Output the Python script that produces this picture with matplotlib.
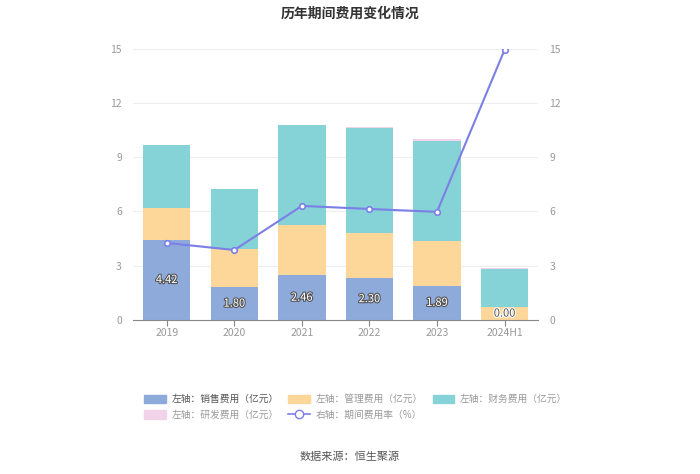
import numpy as np
import matplotlib.pyplot as plt
import matplotlib.patheffects as pe
from matplotlib.patches import Patch
from matplotlib.lines import Line2D

plt.rcParams['font.family'] = ['Noto Sans CJK SC', 'DejaVu Sans']

# 数据
years = ['2019', '2020', '2021', '2022', '2023', '2024H1']
sales = [4.42, 1.80, 2.46, 2.30, 1.89, 0.00]
admin = [1.78, 2.13, 2.80, 2.51, 2.48, 0.72]
finance = [3.48, 3.32, 5.53, 5.80, 5.53, 2.10]
research = [0.00, 0.00, 0.02, 0.08, 0.10, 0.05]
rate = [4.26, 3.87, 6.31, 6.14, 5.98, 14.94]

c_sales = '#8eaadb'
c_admin = '#fdd69a'
c_fin = '#86d3d7'
c_rd = '#f1d4e9'
c_line = '#7b7fe6'
grey = '#999999'

fig = plt.figure(figsize=(7, 4.74), dpi=100)
ax = fig.add_axes([0.19, 0.325, 0.579, 0.572])
ax2 = ax.twinx()

x = np.arange(len(years))
w = 0.7
sales = np.array(sales)
admin = np.array(admin)
finance = np.array(finance)
research = np.array(research)

ax.bar(x, sales, w, color=c_sales, zorder=2)
ax.bar(x, admin, w, bottom=sales, color=c_admin, zorder=2)
ax.bar(x, finance, w, bottom=sales + admin, color=c_fin, zorder=2)
ax.bar(x, research, w, bottom=sales + admin + finance, color=c_rd, zorder=2)

# 销售费用数值标签
for i, v in enumerate(sales):
    y = v / 2 if v > 0.3 else 0.35
    ax.text(i, y, f'{v:.2f}', ha='center', va='center', fontsize=8,
            color='white' if v > 0 else '#555555', zorder=5,
            path_effects=[pe.withStroke(linewidth=1.6,
                                        foreground='#555555' if v > 0 else 'white')])

ax2.plot(x, rate, color=c_line, lw=1.5, marker='o', ms=4,
         markerfacecolor='white', markeredgecolor=c_line, markeredgewidth=1.2, zorder=4)

for a in (ax, ax2):
    a.set_ylim(0, 15)
    a.set_yticks([0, 3, 6, 9, 12, 15])
    a.set_xlim(-0.5, len(years) - 0.5)
    for s in a.spines.values():
        s.set_visible(False)
    a.tick_params(axis='y', length=0, labelsize=7.5, labelcolor=grey, pad=8)

ax.spines['bottom'].set_visible(True)
ax.spines['bottom'].set_color('#888888')
ax.set_xticks(x)
ax.set_xticklabels(years)
ax.tick_params(axis='x', length=4, color='#888888', labelsize=7.5, labelcolor=grey, pad=2)
ax.yaxis.grid(True, color='#eeeeee', lw=0.8, zorder=0)
ax.set_axisbelow(True)

fig.text(0.5, 0.972, '历年期间费用变化情况', ha='center', va='center',
         fontsize=10, fontweight='bold', color='#333333')

handles = [
    Patch(color=c_sales), Patch(color=c_rd), Patch(color=c_admin),
    Line2D([], [], color=c_line, marker='o', markerfacecolor='white',
           markeredgecolor=c_line, ms=6, lw=1.2),
    Patch(color=c_fin),
]
labels = ['左轴：销售费用（亿元）', '左轴：研发费用（亿元）', '左轴：管理费用（亿元）',
          '右轴：期间费用率（%）', '左轴：财务费用（亿元）']
leg = fig.legend(handles, labels, ncol=3, loc='center', bbox_to_anchor=(0.508, 0.141),
                 frameon=False, fontsize=7, handlelength=2.2, handleheight=1.0,
                 columnspacing=1.0, labelspacing=0.6, handletextpad=0.6)
for t in leg.get_texts():
    t.set_color(grey)
leg.get_texts()[0].set_color('#555555')

fig.text(0.5, 0.036, '数据来源：恒生聚源', ha='center', va='center', fontsize=8, color='#555555')

fig.savefig('out.png', dpi=100)
